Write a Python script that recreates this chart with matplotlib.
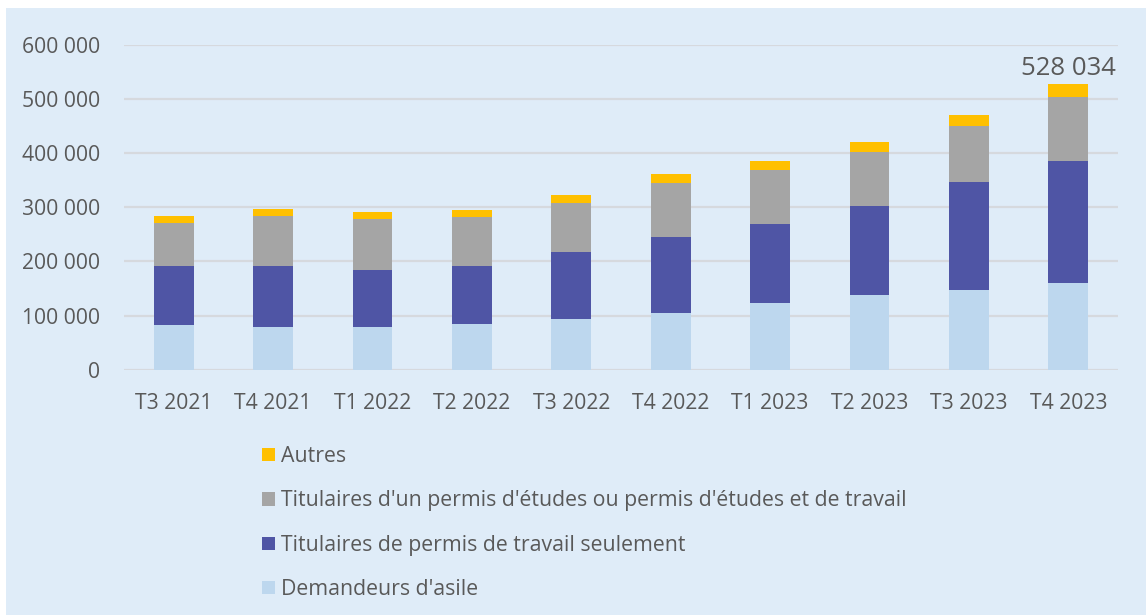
import matplotlib
matplotlib.use('Agg')
import matplotlib.pyplot as plt
from matplotlib.patches import Rectangle, Patch
import numpy as np

plt.rcParams['font.family'] = ['Open Sans', 'DejaVu Sans']

# données (nombre de personnes)
trimestres = ['T3 2021', 'T4 2021', 'T1 2022', 'T2 2022', 'T3 2022',
              'T4 2022', 'T1 2023', 'T2 2023', 'T3 2023', 'T4 2023']
asile = [81800, 78800, 78800, 83700, 92900, 105200, 123100, 137800, 146500, 159400]
travail = [109000, 112000, 105800, 107100, 124300, 140300, 146400, 164400, 200000, 225800]
etudes = [80000, 92900, 94200, 91000, 90500, 99100, 99100, 100300, 103400, 118200]
autres = [12200, 12900, 12200, 13000, 14800, 16000, 16600, 17800, 20300, 24634]

noms = ['Demandeurs d\'asile',
        'Titulaires de permis de travail seulement',
        'Titulaires d\'un permis d\'études ou permis d\'études et de travail',
        'Autres']
couleurs = ['#BDD7EE', '#4F55A5', '#A5A5A5', '#FFC000']

fond = '#DFECF8'
gris_txt = '#595959'

fig = plt.figure(figsize=(11.46, 6.15), dpi=100)
fig.patch.set_facecolor('white')
fig.patches.append(Rectangle((6 / 1146, 0), 1140 / 1146, 607 / 615,
                             transform=fig.transFigure, facecolor=fond,
                             edgecolor='none', zorder=-10))

ax = fig.add_axes([124 / 1146, 1 - 369.7 / 615, (1118 - 124) / 1146, (369.7 - 44.7) / 615])
ax.set_facecolor('none')

x = np.arange(len(trimestres))
series = [asile, travail, etudes, autres]
bas = np.zeros(len(trimestres))
for vals, nom, c in zip(series, noms, couleurs):
    ax.bar(x, vals, width=0.4, bottom=bas, color=c, label=nom, zorder=3)
    bas = bas + np.array(vals)

# étiquette du total de la dernière barre
total = bas[-1]
ax.text(x[-1], total + 5500, f'{int(round(total)):,}'.replace(',', ' '),
        ha='center', va='bottom', fontsize=18.5, color=gris_txt)

ax.set_xlim(-0.5, len(trimestres) - 0.5)
ax.set_ylim(0, 600000)
ax.set_yticks(np.arange(0, 600001, 100000))
ax.set_yticklabels([f'{v:,}'.replace(',', ' ') for v in range(0, 600001, 100000)])
ax.set_xticks(x)
ax.set_xticklabels(trimestres)
ax.tick_params(axis='both', length=0, labelsize=15.2, colors=gris_txt)
ax.tick_params(axis='y', pad=17)
ax.tick_params(axis='x', pad=17)
ax.grid(axis='y', color='#D6D9DE', linewidth=1.6, zorder=0)
for s in ax.spines.values():
    s.set_visible(False)

handles = [Patch(facecolor=c, edgecolor='none') for c in couleurs][::-1]
fig.legend(handles, noms[::-1], loc='upper left',
           bbox_to_anchor=(262 / 1146, 1 - 446 / 615), frameon=False,
           fontsize=15.3, labelcolor=gris_txt, handlelength=0.6,
           handleheight=0.6, handletextpad=0.3, labelspacing=1.1,
           borderaxespad=0, borderpad=0)

fig.savefig('out.png', dpi=100, facecolor=fig.get_facecolor())
